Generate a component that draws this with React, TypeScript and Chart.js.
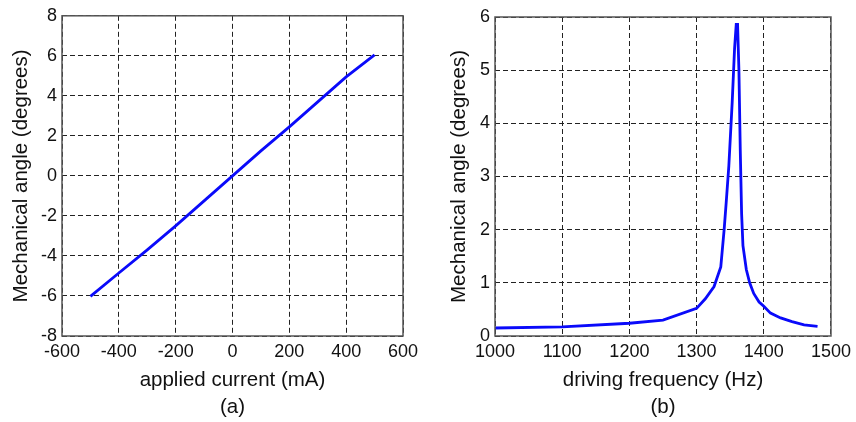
import React, { useEffect, useRef } from "react";
import { Chart, registerables } from "chart.js";

Chart.register(...registerables);

// (a) applied current vs mechanical angle
const currentMA = [-500, -400, -300, -200, -100, 0, 100, 200, 300, 400, 500];
const angleA = [-6.02, -4.85, -3.7, -2.5, -1.25, 0, 1.25, 2.45, 3.7, 4.95, 6.05];

// (b) driving frequency vs mechanical angle
const freqHz = [1000, 1100, 1200, 1250, 1300, 1313, 1326, 1336, 1341, 1344, 1348, 1353, 1356.5, 1359, 1361, 1363, 1365, 1367, 1369, 1374, 1379, 1385, 1393, 1400, 1410, 1425, 1442, 1460, 1480];
const angleB = [0.15, 0.17, 0.24, 0.3, 0.52, 0.7, 0.93, 1.3, 2.0, 2.5, 3.2, 4.4, 5.4, 5.86, 5.86, 5.0, 3.5, 2.3, 1.7, 1.25, 1.0, 0.8, 0.64, 0.56, 0.43, 0.34, 0.27, 0.21, 0.18];

const FONT = "'Liberation Sans', Arial, Helvetica, sans-serif";

const framePlugin = {
  id: "frame",
  afterDatasetsDraw(chart: any) {
    const { ctx, chartArea: a } = chart;
    ctx.save();
    ctx.strokeStyle = "#555";
    ctx.lineWidth = 1.5;
    ctx.setLineDash([]);
    ctx.strokeRect(a.left, a.top, a.right - a.left, a.bottom - a.top);
    ctx.restore();
  },
};

type Cfg = {
  xs: number[];
  ys: number[];
  xMin: number;
  xMax: number;
  xStep: number;
  yMin: number;
  yMax: number;
  yStep: number;
  xTitle: string[];
  yTitle: string;
  yWidth: number;
  padTop: number;
  padRight: number;
  yTitlePad: number;
};

function Panel({ cfg, left }: { cfg: Cfg; left: number }) {
  const ref = useRef<HTMLCanvasElement>(null);
  useEffect(() => {
    const data = cfg.xs.map((x, i) => ({ x, y: cfg.ys[i] }));
    const gridCommon = {
      color: "#222",
      lineWidth: 1,
      drawTicks: false,
    };
    const chart = new Chart(ref.current!, {
      type: "line",
      data: {
        datasets: [
          {
            data,
            borderColor: "rgb(10,10,250)",
            borderWidth: 2.8,
            pointRadius: 0,
            tension: 0,
            fill: false,
          },
        ],
      },
      options: {
        responsive: false,
        animation: false,
        events: [],
        layout: { padding: { top: cfg.padTop, right: cfg.padRight, left: 0, bottom: 0 } },
        plugins: { legend: { display: false }, tooltip: { enabled: false } },
        scales: {
          x: {
            type: "linear",
            min: cfg.xMin,
            max: cfg.xMax,
            afterFit: (s: any) => {
              s.height = 86;
            },
            ticks: {
              stepSize: cfg.xStep,
              color: "#111",
              padding: 5,
              font: { family: FONT, size: 18 },
              maxRotation: 0,
              callback: (v: any) => String(v),
            },
            grid: gridCommon,
            border: { display: false, dash: [5, 3] },
            title: {
              display: true,
              text: cfg.xTitle,
              color: "#111",
              font: { family: FONT, size: 20.5, lineHeight: 1.32 },
              padding: { top: 0, bottom: 1.5 },
            },
          },
          y: {
            type: "linear",
            min: cfg.yMin,
            max: cfg.yMax,
            afterFit: (s: any) => {
              s.width = cfg.yWidth;
            },
            ticks: {
              stepSize: cfg.yStep,
              color: "#111",
              padding: 5,
              font: { family: FONT, size: 18 },
              callback: (v: any) => String(v),
            },
            grid: gridCommon,
            border: { display: false, dash: [5, 3] },
            title: {
              display: true,
              text: cfg.yTitle,
              color: "#111",
              font: { family: FONT, size: 20.5, lineHeight: 1.2 },
              padding: { top: cfg.yTitlePad, bottom: 0 },
            },
          },
        },
      } as any,
      plugins: [framePlugin],
    });
    return () => chart.destroy();
  }, []);
  return (
    <canvas
      ref={ref}
      width={428}
      height={422}
      style={{ position: "absolute", left, top: 0, width: 428, height: 422 }}
    />
  );
}

const cfgA: Cfg = {
  xs: currentMA,
  ys: angleA,
  xMin: -600,
  xMax: 600,
  xStep: 200,
  yMin: -8,
  yMax: 8,
  yStep: 2,
  xTitle: ["applied current (mA)", "(a)"],
  yTitle: "Mechanical angle (degrees)",
  yWidth: 62,
  padTop: 15,
  padRight: 25,
  yTitlePad: 9.5,
};

const cfgB: Cfg = {
  xs: freqHz,
  ys: angleB,
  xMin: 1000,
  xMax: 1500,
  xStep: 100,
  yMin: 0,
  yMax: 6,
  yStep: 1,
  xTitle: ["driving frequency (Hz)", "(b)"],
  yTitle: "Mechanical angle (degrees)",
  yWidth: 67,
  padTop: 17,
  padRight: 23,
  yTitlePad: 19,
};

export default function App() {
  useEffect(() => {
    document.body.style.margin = "0";
  }, []);
  return (
    <div style={{ position: "fixed", left: 0, top: 0, width: 856, height: 422, background: "#fff" }}>
      <Panel cfg={cfgA} left={0} />
      <Panel cfg={cfgB} left={428} />
    </div>
  );
}
